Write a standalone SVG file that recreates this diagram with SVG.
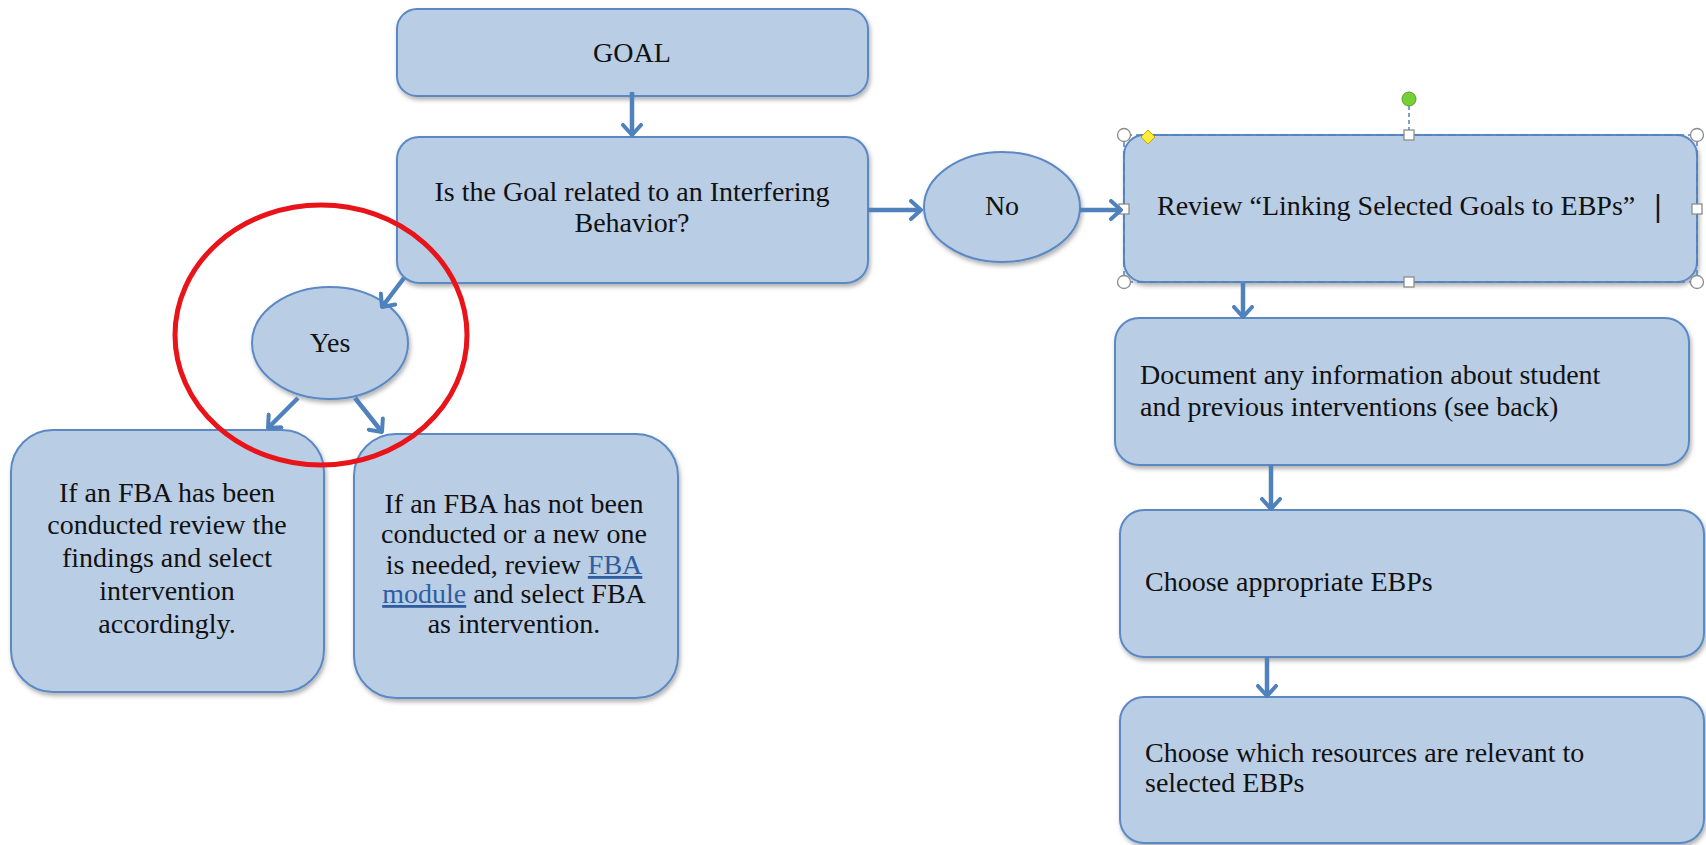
<svg xmlns="http://www.w3.org/2000/svg" width="1706" height="845" viewBox="0 0 1706 845">
<style>
.box{fill:#b9cde5;stroke:#5b89c4;stroke-width:2;filter:url(#sh)}
.t{font-family:"Liberation Serif","Times New Roman",serif;font-size:28px;fill:#111}
.c{text-anchor:middle}
.link{fill:#2f5d9f;text-decoration:underline}
.conn line{stroke:#4f81bd;stroke-width:4.5;marker-end:url(#ah)}
.hc{fill:#fff;stroke:#8c8c8c;stroke-width:1.3}
</style>
<defs>
<filter id="sh" x="-10%" y="-10%" width="120%" height="130%">
<feDropShadow dx="1.5" dy="3" stdDeviation="2" flood-color="#000" flood-opacity="0.3"/>
</filter>
<marker id="ah" viewBox="0 0 14 22" refX="12" refY="11" markerUnits="userSpaceOnUse" markerWidth="14" markerHeight="22" orient="auto">
<path d="M2,2 L12,11 L2,20" fill="none" stroke="#4f81bd" stroke-width="4" stroke-linecap="round" stroke-linejoin="round"/>
</marker>
</defs>
<rect width="1706" height="845" fill="#fff"/>

<g id="goal">
<rect class="box" x="397" y="9" width="471" height="87" rx="20"/>
<text class="t c" x="632" y="62">GOAL</text>
</g>
<g id="question">
<rect class="box" x="397" y="137" width="471" height="146" rx="22"/>
<text class="t c" x="632" y="201">Is the Goal related to an Interfering</text>
<text class="t c" x="632" y="232">Behavior?</text>
</g>
<g id="no">
<ellipse class="box" cx="1002" cy="207" rx="78" ry="55"/>
<text class="t c" x="1002" y="215">No</text>
</g>
<g id="yes">
<ellipse class="box" cx="330" cy="343" rx="78" ry="56"/>
<text class="t c" x="330" y="352">Yes</text>
</g>
<g id="fba-done">
<rect class="box" x="11" y="430" width="313" height="262" rx="42"/>
<text class="t c" x="167" y="502">If an FBA has been</text>
<text class="t c" x="167" y="534">conducted review the</text>
<text class="t c" x="167" y="567">findings and select</text>
<text class="t c" x="167" y="600">intervention</text>
<text class="t c" x="167" y="633">accordingly.</text>
</g>
<g id="fba-new">
<rect class="box" x="354" y="434" width="324" height="264" rx="42"/>
<text class="t c" x="514" y="513">If an FBA has not been</text>
<text class="t c" x="514" y="543">conducted or a new one</text>
<text class="t c" x="514" y="574">is needed, review <tspan class="link">FBA</tspan></text>
<text class="t c" x="514" y="603"><tspan class="link">module</tspan> and select FBA</text>
<text class="t c" x="514" y="633">as intervention.</text>
</g>
<g id="review">
<rect class="box" x="1124" y="135" width="573" height="147" rx="20"/>
<text class="t" x="1157" y="215">Review “Linking Selected Goals to EBPs”</text>
<line x1="1658" y1="194" x2="1658" y2="223" stroke="#2a1a10" stroke-width="2.5"/>
<rect x="1124" y="135" width="573" height="147" fill="none" stroke="#4f81bd" stroke-width="1.5" stroke-dasharray="8 4"/>
<line x1="1409" y1="106" x2="1409" y2="130" stroke="#4f81bd" stroke-width="1.5" stroke-dasharray="4 3"/>
<circle cx="1409" cy="99" r="7" fill="#76cf34" stroke="#5a9e2a" stroke-width="1"/>
<circle class="hc" cx="1124" cy="135" r="6.5"/>
<circle class="hc" cx="1697" cy="135" r="6.5"/>
<circle class="hc" cx="1124" cy="282" r="6.5"/>
<circle class="hc" cx="1697" cy="282" r="6.5"/>
<rect class="hc" x="1404" y="130" width="10" height="10"/>
<rect class="hc" x="1404" y="277" width="10" height="10"/>
<rect class="hc" x="1119" y="204" width="10" height="10"/>
<rect class="hc" x="1692" y="204" width="10" height="10"/>
<path d="M1148,130 L1155,137 L1148,144 L1141,137 Z" fill="#ffeb3b" stroke="#c9a800" stroke-width="1"/>
</g>
<g id="document">
<rect class="box" x="1115" y="318" width="574" height="147" rx="24"/>
<text class="t" x="1140" y="384">Document any information about student</text>
<text class="t" x="1140" y="416">and previous interventions (see back)</text>
</g>
<g id="choose">
<rect class="box" x="1120" y="510" width="584" height="147" rx="24"/>
<text class="t" x="1145" y="591">Choose appropriate EBPs</text>
</g>
<g id="resources">
<rect class="box" x="1120" y="697" width="584" height="146" rx="24"/>
<text class="t" x="1145" y="762">Choose which resources are relevant to</text>
<text class="t" x="1145" y="792">selected EBPs</text>
</g>

<g id="connectors" class="conn">
<line x1="632" y1="92" x2="632" y2="135"/>
<line x1="868" y1="210" x2="921" y2="210"/>
<line x1="1080" y1="210" x2="1121" y2="210"/>
<line x1="404" y1="278" x2="382" y2="307"/>
<line x1="298" y1="398" x2="268" y2="428"/>
<line x1="355" y1="398" x2="382" y2="432"/>
<line x1="1243" y1="283" x2="1243" y2="317"/>
<line x1="1271" y1="465" x2="1271" y2="509"/>
<line x1="1267" y1="657" x2="1267" y2="696"/>
</g>

<g id="highlight">
<ellipse cx="321" cy="335" rx="146" ry="130" fill="none" stroke="#e8141a" stroke-width="5"/>
</g>
</svg>
